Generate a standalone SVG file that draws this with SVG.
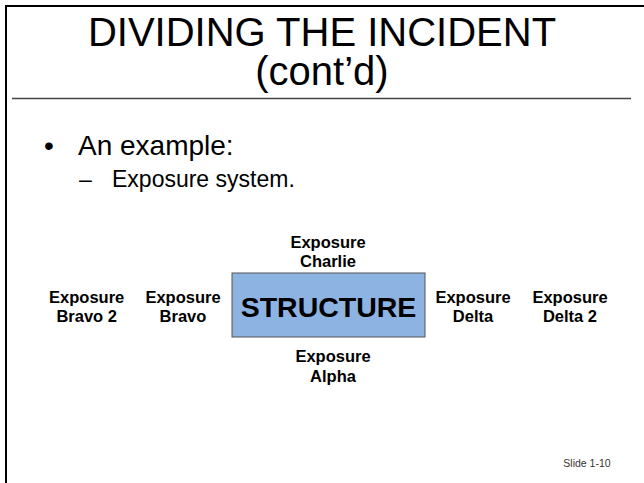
<svg xmlns="http://www.w3.org/2000/svg" width="644" height="483" viewBox="0 0 644 483">
<style>
text{font-family:"Liberation Sans",Arial,sans-serif;fill:#000}
.title{font-size:40px;text-anchor:middle}
.lbl{font-size:16.5px;font-weight:bold;text-anchor:middle}
</style>
<rect width="644" height="483" fill="#fff"/>
<g id="frame">
<path d="M6,483 V6 H644" fill="none" stroke="#000" stroke-width="2"/>
<line x1="12" y1="98.5" x2="631" y2="98.5" stroke="#444" stroke-width="1.5"/>
</g>
<g id="title">
<text class="title" x="322" y="46">DIVIDING THE INCIDENT<tspan x="322" dy="39">(cont’d)</tspan></text>
</g>
<g id="bullets">
<text x="44" y="155" style="font-size:28px">•</text>
<text x="78" y="155" style="font-size:28px">An example:</text>
<text x="79" y="187" style="font-size:23px">–</text>
<text x="112" y="187" style="font-size:23px">Exposure system.</text>
</g>
<g id="structure">
<rect x="232" y="273" width="193" height="64" fill="#8DB3E2" stroke="#555" stroke-width="1"/>
<text x="328.5" y="317" style="font-size:28.5px;font-weight:bold;text-anchor:middle">STRUCTURE</text>
</g>
<g id="charlie"><text class="lbl" x="328" y="248">Exposure<tspan x="328" dy="19">Charlie</tspan></text></g>
<g id="alpha"><text class="lbl" x="333" y="362">Exposure<tspan x="333" dy="19.5">Alpha</tspan></text></g>
<g id="bravo2"><text class="lbl" x="86.7" y="303">Exposure<tspan x="86.7" dy="19">Bravo 2</tspan></text></g>
<g id="bravo"><text class="lbl" x="183" y="303">Exposure<tspan x="183" dy="19">Bravo</tspan></text></g>
<g id="delta"><text class="lbl" x="473" y="303">Exposure<tspan x="473" dy="19">Delta</tspan></text></g>
<g id="delta2"><text class="lbl" x="570" y="303">Exposure<tspan x="570" dy="19">Delta 2</tspan></text></g>
<g id="connectors"></g>
<text x="587" y="467" style="font-size:10.5px;fill:#333;text-anchor:middle">Slide 1-10</text>
</svg>
